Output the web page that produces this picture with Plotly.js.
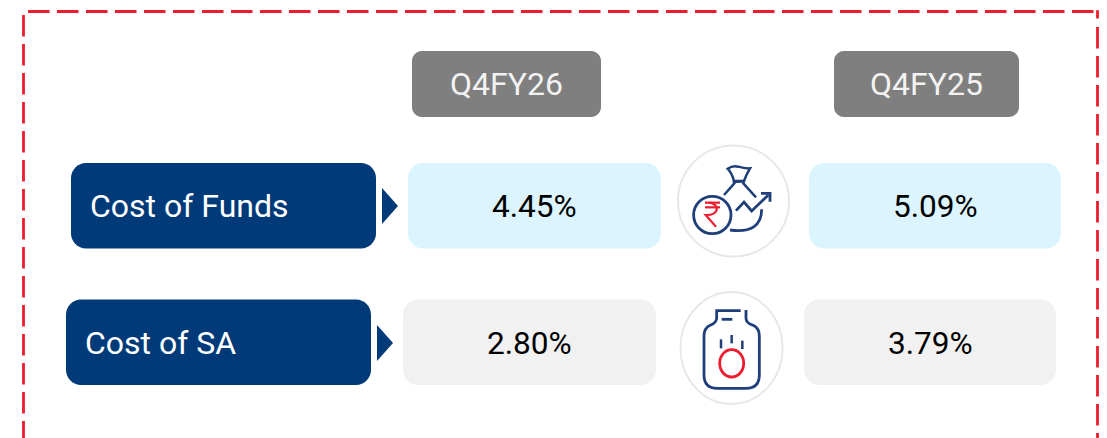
<!DOCTYPE html>
<html>
<head>
<meta charset="utf-8">
<script src="https://cdn.plot.ly/plotly-3.0.1.min.js"></script>
<style>html,body{margin:0;padding:0;background:#fff;overflow:hidden}#c{width:1107px;height:438px}</style>
</head>
<body>
<div id="c"></div>
<script>
var periods = ["Q4FY26", "Q4FY25"];
var metrics = ["Cost of Funds", "Cost of SA"];
var q4fy26 = ["4.45%", "2.80%"];
var q4fy25 = ["5.09%", "3.79%"];

var NAVY = "#003a78", RED = "#ed1c2e", ICON = "#1f3f7a", RING = "#e8e8e8";
var shapes = [], annotations = [];

function rr(x0, y0, x1, y1, r, fill) {
  var k = r * 0.45;
  var p = "M" + (x0 + r) + "," + y0 + " L" + (x1 - r) + "," + y0 +
    " C" + (x1 - k) + "," + y0 + " " + x1 + "," + (y0 + k) + " " + x1 + "," + (y0 + r) +
    " L" + x1 + "," + (y1 - r) +
    " C" + x1 + "," + (y1 - k) + " " + (x1 - k) + "," + y1 + " " + (x1 - r) + "," + y1 +
    " L" + (x0 + r) + "," + y1 +
    " C" + (x0 + k) + "," + y1 + " " + x0 + "," + (y1 - k) + " " + x0 + "," + (y1 - r) +
    " L" + x0 + "," + (y0 + r) +
    " C" + x0 + "," + (y0 + k) + " " + (x0 + k) + "," + y0 + " " + (x0 + r) + "," + y0 + " Z";
  shapes.push({type: "path", xref: "x", yref: "y", path: p, fillcolor: fill, line: {width: 0}});
}
function tri(x0, x1, yc, h) {
  shapes.push({type: "path", xref: "x", yref: "y",
    path: "M" + x0 + "," + (yc - h) + " L" + x1 + "," + yc + " L" + x0 + "," + (yc + h) + " Z",
    fillcolor: NAVY, line: {width: 0}});
}
function txt(s, x, y, size, color, anchor) {
  annotations.push({text: s, x: x, y: y, xref: "x", yref: "y", showarrow: false,
    xanchor: anchor || "center", yanchor: "middle",
    font: {family: "Roboto, sans-serif", size: size, color: color}});
}
function ln(x0, y0, x1, y1, color, w, dash) {
  shapes.push({type: "line", xref: "x", yref: "y", x0: x0, y0: y0, x1: x1, y1: y1,
    line: {color: color, width: w, dash: dash || "solid"}});
}
function ell(cx, cy, rx, ry, color, w) {
  shapes.push({type: "circle", xref: "x", yref: "y", x0: cx - rx, x1: cx + rx, y0: cy - ry, y1: cy + ry,
    line: {color: color, width: w}, fillcolor: "rgba(0,0,0,0)"});
}
// Path given in crop coordinates: 3x scale around an origin
function icon(ox, oy, cmds, color, w) {
  var p = cmds.replace(/(-?[\d.]+),(-?[\d.]+)/g, function (m, a, b) {
    return (ox + a / 3).toFixed(2) + "," + (oy + b / 3).toFixed(2);
  });
  shapes.push({type: "path", xref: "x", yref: "y", path: p, line: {color: color, width: w},
    fillcolor: "rgba(0,0,0,0)"});
}

// Dashed frame
var dashPat = "21.5px,7.5px";
ln(28, 11.5, 1098.5, 11.5, RED, 2.8, dashPat);
ln(23.5, 15, 23.5, 438, RED, 2.8, dashPat);
ln(1097.5, 10.2, 1097.5, 18.5, RED, 2.8);
ln(1097.5, 27, 1097.5, 438, RED, 2.8, dashPat);

// Headers
rr(412, 51, 601, 117, 10, "#7f7f7f");
rr(834, 51, 1019, 117, 10, "#7f7f7f");
txt(periods[0], 506, 84.2, 32, "#f2f2f2");
txt(periods[1], 926.5, 84.2, 32, "#f2f2f2");

// Row 1
rr(71, 163, 376, 248.5, 15, NAVY);
tri(382, 398, 206, 18);
rr(408, 163, 661, 248.5, 15, "#dcf4fe");
rr(809, 163, 1061, 248.5, 15, "#dcf4fe");
txt(metrics[0], 88, 206, 32, "#ffffff", "left");
txt(q4fy26[0], 534, 206, 31.6, "#000000");
txt(q4fy25[0], 935, 206, 31.6, "#000000");

// Row 2
rr(66, 299.5, 371, 385, 15, NAVY);
tri(377, 393, 343, 18);
rr(403, 299.5, 656, 385, 15, "#f1f1f1");
rr(804, 299.5, 1056, 385, 15, "#f1f1f1");
txt(metrics[1], 83, 343, 32, "#ffffff", "left");
txt(q4fy26[1], 529.5, 343, 31.6, "#000000");
txt(q4fy25[1], 930, 343, 31.6, "#000000");

// Money-bag icon
ell(733.5, 201, 55.5, 55.5, RING, 2);
var a = [660, 130];
icon(a[0], a[1], "M203,116 Q218,106 235,110 Q255,116 270,115 Q258,135 252,153 L222,153 Q216,130 203,116 Z", ICON, 2.5);
icon(a[0], a[1], "M218,156 L255,154", ICON, 2.5);
icon(a[0], a[1], "M225,158 L192,195", ICON, 2.5);
icon(a[0], a[1], "M248,158 L288,202", ICON, 2.5);
icon(a[0], a[1], "M228,242 L252,216 L275,243 L325,195", ICON, 2.8);
icon(a[0], a[1], "M303,190 L330,190 L330,215", ICON, 2.8);
icon(a[0], a[1], "M210,300 Q305,312 305,238", ICON, 2.8);
ell(712.3, 215, 18.7, 18.7, ICON, 2.8);
icon(a[0], a[1], "M135,218 L180,218", RED, 2.2);
icon(a[0], a[1], "M135,232 L180,232", RED, 2.2);
icon(a[0], a[1], "M148,218 Q172,222 170,240 Q165,256 137,255 L168,290", RED, 2.2);

// Jar icon
ell(731.5, 348, 51, 56, RING, 2);
var b = [660, 280];
icon(b[0], b[1], "M242,92 L170,92 L170,115 Q168,130 150,136 Q132,145 132,168 L132,285 Q132,325 172,325 L258,325 Q298,325 298,285 L298,168 Q298,145 280,136 Q258,130 258,115 L258,90", ICON, 2.8);
icon(b[0], b[1], "M185,118 L217,118", ICON, 2.8);
icon(b[0], b[1], "M183,178 L183,205", ICON, 2.5);
icon(b[0], b[1], "M215,165 L215,190", ICON, 2.5);
icon(b[0], b[1], "M247,182 L247,207", ICON, 2.5);
ell(731.7, 363.3, 12, 13.7, RED, 2.8);

var layout = {
  width: 1107, height: 438,
  margin: {l: 0, r: 0, t: 0, b: 0, pad: 0},
  paper_bgcolor: "#ffffff", plot_bgcolor: "#ffffff",
  showlegend: false,
  xaxis: {range: [0, 1107], visible: false, fixedrange: true},
  yaxis: {range: [438, 0], visible: false, fixedrange: true},
  shapes: shapes, annotations: annotations
};
Plotly.newPlot("c", [{type: "scatter", x: [0], y: [0], mode: "none", hoverinfo: "skip"}], layout, {displayModeBar: false, staticPlot: true});
</script>
</body>
</html>
